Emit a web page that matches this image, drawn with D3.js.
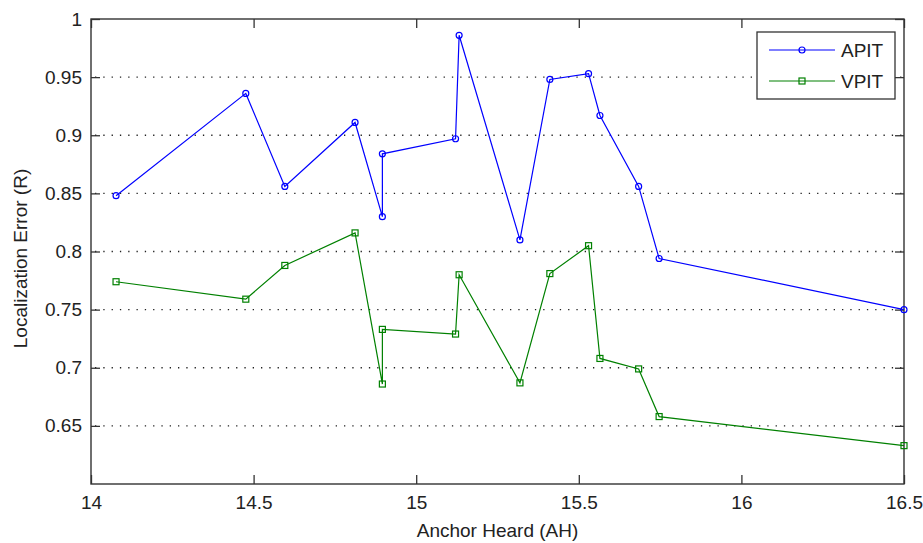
<!DOCTYPE html>
<html>
<head>
<meta charset="utf-8">
<script src="https://cdn.jsdelivr.net/npm/d3@7"></script>
<style>
  body { margin: 0; background: #fff; }
  svg { display: block; font-family: "Liberation Sans", Arial, sans-serif; }
</style>
</head>
<body>
<svg width="923" height="543"></svg>
<script>
// anchor heard values (shared by both series)
var anchorHeard = [14.077, 14.476, 14.596, 14.812, 14.896, 14.896, 15.121, 15.132,
                   15.319, 15.411, 15.530, 15.565, 15.684, 15.747, 16.5];
var apitErr = [0.848, 0.936, 0.856, 0.911, 0.830, 0.884, 0.897, 0.986,
               0.810, 0.948, 0.953, 0.917, 0.856, 0.794, 0.750];
var vpitErr = [0.774, 0.759, 0.788, 0.816, 0.686, 0.733, 0.729, 0.780,
               0.687, 0.781, 0.805, 0.708, 0.699, 0.658, 0.633];
var xTicks = [14, 14.5, 15, 15.5, 16, 16.5];
var yTicks = [0.65, 0.7, 0.75, 0.8, 0.85, 0.9, 0.95, 1];
var seriesNames = ['APIT', 'VPIT'];

var margin = {left: 91, right: 19, top: 19, bottom: 59};
var width = 923, height = 543;
var fontSize = '19px';

var svg = d3.select('svg');

var x = d3.scaleLinear().domain([14, 16.5]).range([margin.left, width - margin.right]);
var y = d3.scaleLinear().domain([0.6, 1]).range([height - margin.bottom, margin.top]);

// dotted horizontal grid
svg.append('g')
  .selectAll('line')
  .data(yTicks.filter(d => d < 1))
  .enter().append('line')
    .attr('x1', x(14)).attr('x2', x(16.5))
    .attr('y1', d => y(d)).attr('y2', d => y(d))
    .attr('stroke', '#222')
    .attr('stroke-width', 1.3)
    .attr('stroke-dasharray', '1.3,7')
    .attr('stroke-dashoffset', -4);

var tickLen = 9;
function fmt(d) { return d3.format('')(+d.toFixed(2)); }

// bottom + top axes
var xb = svg.append('g')
  .attr('transform', 'translate(0,' + y(0.6) + ')')
  .call(d3.axisBottom(x).tickValues(xTicks).tickSize(-tickLen).tickPadding(12).tickFormat(fmt));
var xt = svg.append('g')
  .attr('transform', 'translate(0,' + y(1) + ')')
  .call(d3.axisTop(x).tickValues(xTicks).tickSize(-tickLen).tickFormat(''));
var yl = svg.append('g')
  .attr('transform', 'translate(' + x(14) + ',0)')
  .call(d3.axisLeft(y).tickValues(yTicks).tickSize(-tickLen).tickPadding(9).tickFormat(fmt));
var yr = svg.append('g')
  .attr('transform', 'translate(' + x(16.5) + ',0)')
  .call(d3.axisRight(y).tickValues(yTicks).tickSize(-tickLen).tickFormat(''));

[xb, xt, yl, yr].forEach(function(g) {
  g.select('.domain').remove();
  g.selectAll('.tick line').attr('stroke', '#333').attr('stroke-width', 1.3);
  g.selectAll('.tick text').attr('fill', '#222').style('font-size', fontSize);
});
xb.selectAll('.tick text').attr('dy', '0.71em');

// frame
svg.append('rect')
  .attr('x', x(14)).attr('y', y(1))
  .attr('width', x(16.5) - x(14)).attr('height', y(0.6) - y(1))
  .attr('fill', 'none')
  .attr('stroke', '#333')
  .attr('stroke-width', 1.4);

// axis titles
svg.append('text')
  .attr('x', (x(14) + x(16.5)) / 2)
  .attr('y', 537)
  .attr('text-anchor', 'middle')
  .attr('fill', '#222')
  .style('font-size', fontSize)
  .text('Anchor Heard (AH)');

svg.append('text')
  .attr('transform', 'translate(27,' + (y(0.8) + 7) + ') rotate(-90)')
  .attr('text-anchor', 'middle')
  .attr('fill', '#222')
  .style('font-size', fontSize)
  .text('Localization Error (R)');

var colors = ['#0000ff', '#008000'];
var series = [apitErr, vpitErr];

var line = d3.line()
  .x(d => x(d[0]))
  .y(d => y(d[1]));

series.forEach(function(vals, i) {
  var pts = anchorHeard.map((a, j) => [a, vals[j]]);
  var g = svg.append('g');
  g.append('path')
    .datum(pts)
    .attr('d', line)
    .attr('fill', 'none')
    .attr('stroke', colors[i])
    .attr('stroke-width', 1.2);
  drawMarkers(g, pts.map(p => [x(p[0]), y(p[1])]), i);
});

function drawMarkers(g, coords, i) {
  if (i === 0) {
    g.selectAll('circle')
      .data(coords).enter().append('circle')
        .attr('cx', d => d[0]).attr('cy', d => d[1])
        .attr('r', 3)
        .attr('fill', 'none')
        .attr('stroke', colors[i])
        .attr('stroke-width', 1.2);
  } else {
    g.selectAll('rect')
      .data(coords).enter().append('rect')
        .attr('x', d => d[0] - 3).attr('y', d => d[1] - 3)
        .attr('width', 6).attr('height', 6)
        .attr('fill', 'none')
        .attr('stroke', colors[i])
        .attr('stroke-width', 1.2);
  }
}

// legend
var legend = svg.append('g').attr('transform', 'translate(757,32)');
legend.append('rect')
  .attr('width', 138).attr('height', 67)
  .attr('fill', '#fff')
  .attr('stroke', '#333')
  .attr('stroke-width', 1.3);

seriesNames.forEach(function(name, i) {
  var ly = 18 + i * 31;
  legend.append('line')
    .attr('x1', 12).attr('x2', 78)
    .attr('y1', ly).attr('y2', ly)
    .attr('stroke', colors[i])
    .attr('stroke-width', 1.2);
  drawMarkers(legend.append('g'), [[45, ly]], i);
  legend.append('text')
    .attr('x', 84).attr('y', ly)
    .attr('dy', '0.35em')
    .attr('fill', '#222')
    .style('font-size', fontSize)
    .text(name);
});
</script>
</body>
</html>
